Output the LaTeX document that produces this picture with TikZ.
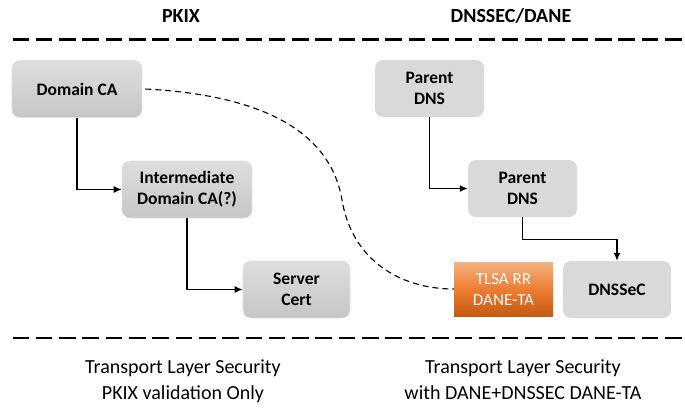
\documentclass[tikz,border=0pt]{standalone}
\usepackage{fontspec}
\setmainfont{Carlito}
\usetikzlibrary{arrows.meta,calc}
\definecolor{lgA}{HTML}{DEDEDE}
\definecolor{lgB}{HTML}{C6C6C6}
\definecolor{flatg}{HTML}{D9D9D9}
\definecolor{orA}{HTML}{F4B183}
\definecolor{orB}{HTML}{ED7D31}
\definecolor{orC}{HTML}{C55A11}
\tikzset{
  shadebox/.style={rounded corners=8pt, top color=lgA, bottom color=lgB, draw=black!12, line width=0.6pt,
    minimum width=130pt, minimum height=57pt, align=center, inner sep=0pt,
    font=\fontsize{17.5}{21}\selectfont\bfseries},
  flatbox/.style={rounded corners=8pt, fill=flatg, draw=none,
    minimum width=109pt, minimum height=57pt, align=center, inner sep=0pt,
    font=\fontsize{17.5}{21}\selectfont\bfseries},
  orangebox/.style={top color=orA, bottom color=orC, middle color=orB, draw=none,
    minimum width=99pt, minimum height=54pt, align=center, inner sep=0pt, text=white,
    font=\fontsize{17}{21}\selectfont},
  heading/.style={font=\fontsize{20}{24}\selectfont\bfseries, anchor=base},
  caption/.style={font=\fontsize{20}{26}\selectfont, anchor=base},
  sepline/.style={line width=2.2pt, dash pattern=on 16.6pt off 6.7pt},
  link/.style={line width=1.2pt, -{Latex[length=8pt,width=7pt]}},
  dashlink/.style={line width=1.1pt, dash pattern=on 6pt off 4pt},
}
\begin{document}
\begin{tikzpicture}[x=1pt,y=-1pt]
\useasboundingbox (0,0) rectangle (685,407);
% headings
\node[heading] (hpkix) at (181,22) {PKIX};
\node[heading] (hdane) at (511,22) {DNSSEC/DANE};
% separators
\coordinate (s1a) at (12.5,39.5);
\coordinate (s1b) at (685,39.5);
\coordinate (s2a) at (12.5,338);
\coordinate (s2b) at (685,338);
\draw[sepline] (s1a) -- (s1b);
\draw[sepline] (s2a) -- (s2b);
% PKIX side
\node[shadebox] (dca) at (77,89) {Domain CA};
\node[shadebox] (inter) at (187,189.5) {Intermediate\\Domain CA(?)};
\node[shadebox, minimum width=107pt] (srv) at (296.5,289.5) {Server\\Cert};
% DNSSEC side
\node[flatbox] (p1) at (429.5,88.5) {Parent\\DNS};
\node[flatbox] (p2) at (522.5,188.5) {Parent\\DNS};
\node[orangebox] (tlsa) at (503.5,289) {TLSA RR\\DANE-TA};
\node[flatbox, minimum width=108pt] (dnssec) at (617,289.5) {DNSSeC};
% connectors
\draw[link] (dca.south) |- (inter.west);
\draw[link] (inter.south) |- (srv.west);
\draw[link] (p1.south) |- (p2.west);
\draw[link] (p2.south) -- ++(0,22) -| (dnssec.north);
\draw[dashlink] ([xshift=3pt]dca.east) .. controls (260,95) and (330,130) .. (342,200)
  .. controls (352,260) and (400,289) .. (tlsa.west);
% captions
\node[caption] (c1a) at (183,373) {Transport Layer Security};
\node[caption] (c1b) at (183,399) {PKIX validation Only};
\node[caption] (c2a) at (523,373) {Transport Layer Security};
\node[caption] (c2b) at (523,399) {with DANE+DNSSEC DANE-TA};
\end{tikzpicture}
\end{document}
